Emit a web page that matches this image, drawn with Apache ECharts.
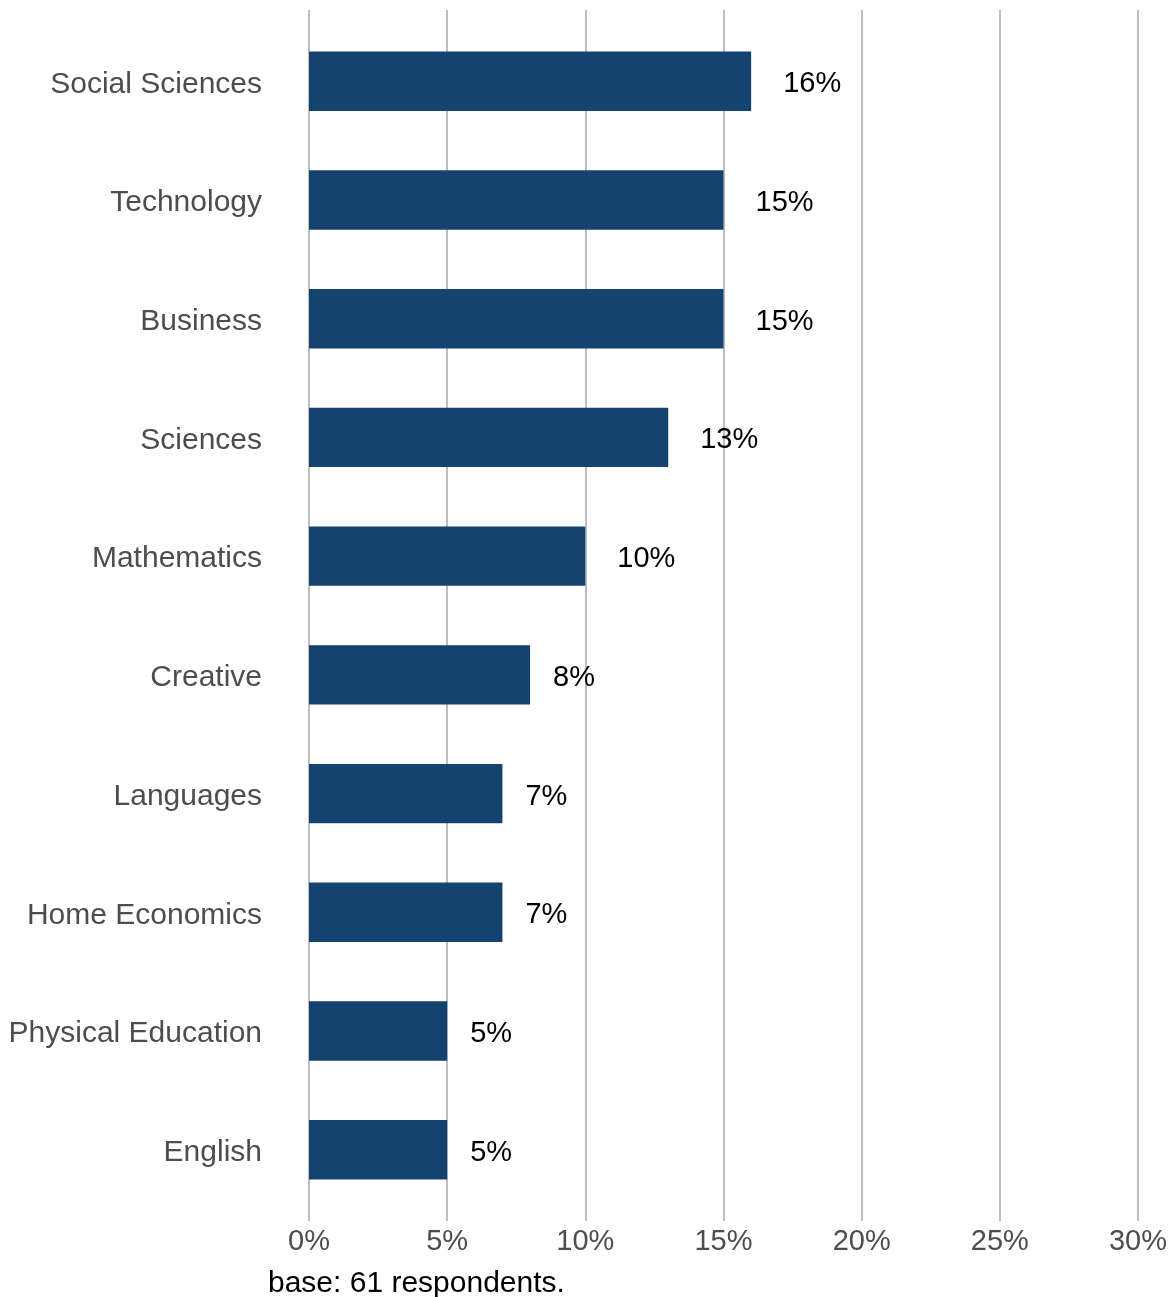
<!DOCTYPE html>
<html>
<head>
<meta charset="utf-8">
<script src="https://cdn.jsdelivr.net/npm/echarts@6/dist/echarts.min.js"></script>
<style>
  html, body { margin: 0; padding: 0; background: #ffffff; }
  #chart { width: 1171px; height: 1297px; }
</style>
</head>
<body>
<div id="chart"></div>
<script>
// Share of respondents by subject (percent)
const subjects = [
  'Social Sciences', 'Technology', 'Business', 'Sciences', 'Mathematics',
  'Creative', 'Languages', 'Home Economics', 'Physical Education', 'English'
];
const shares = [16, 15, 15, 13, 10, 8, 7, 7, 5, 5];
const xTicks = [0, 5, 10, 15, 20, 25, 30];
const caption = 'base: 61 respondents.';

const FONT = '"Liberation Sans", Arial, sans-serif';
const BAR_COLOR = '#144370';

// Labels sit a little to the right of each bar end, offset by roughly half their width
const barData = shares.map(v => {
  const text = v + '%';
  return {
    value: v,
    label: { distance: text.length > 2 ? 32 : 23 }
  };
});

const chart = echarts.init(document.getElementById('chart'), null, { renderer: 'canvas' });

chart.setOption({
  animation: false,
  backgroundColor: '#ffffff',
  grid: [
    // full-height panel carrying the vertical grid lines and the percent axis
    { left: 309, right: 33, top: 10, bottom: 76 },
    // inner panel for the bars (leaves a small margin above and below the bands)
    { left: 309, right: 33, top: 21.9, bottom: 87.9 }
  ],
  xAxis: [
    {
      gridIndex: 0,
      type: 'value',
      min: xTicks[0],
      max: xTicks[xTicks.length - 1],
      interval: xTicks[1] - xTicks[0],
      axisLine: { show: false },
      axisTick: { show: false },
      splitLine: { show: true, lineStyle: { color: '#bebebe', width: 2 } },
      axisLabel: {
        formatter: v => v + '%',
        color: '#4d4d4d',
        fontFamily: FONT,
        fontSize: 29,
        margin: 6
      }
    },
    {
      gridIndex: 1,
      type: 'value',
      min: xTicks[0],
      max: xTicks[xTicks.length - 1],
      show: false
    }
  ],
  yAxis: [
    {
      gridIndex: 0,
      type: 'value',
      show: false
    },
    {
      gridIndex: 1,
      type: 'category',
      data: subjects,
      inverse: true,
      axisLine: { show: false },
      axisTick: { show: false },
      splitLine: { show: false },
      axisLabel: {
        margin: 47,
        formatter: v => '{s|' + v + '}',
        rich: {
          s: {
            color: '#4d4d4d',
            fontFamily: FONT,
            fontSize: 30,
            padding: [6, 0, 0, 0]
          }
        }
      }
    }
  ],
  series: [
    {
      type: 'bar',
      xAxisIndex: 1,
      yAxisIndex: 1,
      data: barData,
      barWidth: '50%',
      itemStyle: { color: BAR_COLOR },
      label: {
        show: true,
        position: 'right',
        offset: [0, 3],
        formatter: p => p.value + '%',
        color: '#000000',
        fontFamily: FONT,
        fontSize: 29
      }
    }
  ],
  graphic: [
    {
      type: 'text',
      left: 268,
      top: 1269,
      style: {
        text: caption,
        fill: '#000000',
        font: '30px ' + FONT
      }
    }
  ]
});
</script>
</body>
</html>
